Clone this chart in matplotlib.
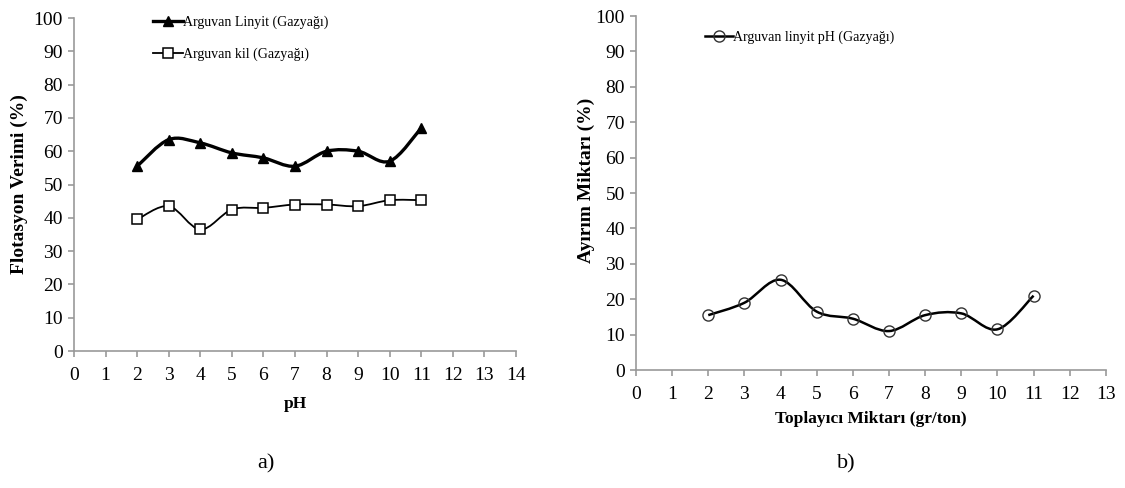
import matplotlib
matplotlib.use("Agg")
import matplotlib.pyplot as plt
import numpy as np
from matplotlib.path import Path
from matplotlib.patches import PathPatch
from matplotlib.lines import Line2D

plt.rcParams['font.family'] = ['Liberation Serif', 'DejaVu Serif']

# panel a
ph = [2, 3, 4, 5, 6, 7, 8, 9, 10, 11]
linyit = [55.5, 63.5, 62.5, 59.5, 58, 55.5, 60, 60, 57, 67]
kil = [39.5, 43.5, 36.5, 42.5, 43, 44, 44, 43.5, 45.3, 45.3]

# panel b
toplayici = [2, 3, 4, 5, 6, 7, 8, 9, 10, 11]
ayirim = [15.5, 19, 25.5, 16.5, 14.5, 11, 15.5, 16, 11.5, 21]


def smooth_path(x, y):
    # Excel-like smoothed line: Catmull-Rom segments drawn as cubic Beziers
    p = np.column_stack([x, y]).astype(float)
    ext = np.vstack([p[0], p, p[-1]])
    verts = [p[0]]
    codes = [Path.MOVETO]
    for i in range(len(p) - 1):
        p0, p1, p2, p3 = ext[i], ext[i + 1], ext[i + 2], ext[i + 3]
        c1 = p1 + (p2 - p0) / 6
        c2 = p2 - (p3 - p1) / 6
        verts += [c1, c2, p2]
        codes += [Path.CURVE4] * 3
    return Path(verts, codes)


def style_axes(ax, xmax, ylabel, xlabel, ysize, xpad):
    for s in ['top', 'right']:
        ax.spines[s].set_visible(False)
    for s in ['left', 'bottom']:
        ax.spines[s].set_color('#999999')
        ax.spines[s].set_linewidth(1.2)
    ax.set_xlim(0, xmax)
    ax.set_ylim(0, 100)
    ax.set_xticks(range(0, xmax + 1))
    ax.set_yticks(range(0, 101, 10))
    ax.tick_params(direction='out', length=4, color='#999999', width=1.2,
                   labelsize=14, pad=4)
    ax.tick_params(axis='x', pad=7.5)
    ax.set_ylabel(ylabel, fontsize=ysize, fontweight='bold', labelpad=4)
    ax.set_xlabel(xlabel, fontsize=12.5, fontweight='bold', labelpad=xpad)


fig = plt.figure(figsize=(11.25, 4.88), dpi=100)
ax1 = fig.add_axes([0.0658, 0.2807, 0.3929, 0.6823])
ax2 = fig.add_axes([0.5653, 0.2418, 0.4177, 0.7252])

style_axes(ax1, 14, 'Flotasyon Verimi (%)', 'pH', 14, 9)
style_axes(ax2, 13, 'Ayırım Miktarı (%)', 'Toplayıcı Miktarı (gr/ton)', 14, 5.5)
ax2.yaxis.set_label_coords(-0.088, 0.537)

ax1.add_patch(PathPatch(smooth_path(ph, linyit), fill=False, lw=2.4, ec='black'))
ax1.plot(ph, linyit, ls='none', marker='^', ms=7.5, mfc='black', mec='black')
ax1.add_patch(PathPatch(smooth_path(ph, kil), fill=False, lw=1.3, ec='black'))
ax1.plot(ph, kil, ls='none', marker='s', ms=7, mfc='white', mec='black', mew=1.1)

ax2.add_patch(PathPatch(smooth_path(toplayici, ayirim), fill=False, lw=1.8, ec='black'))
ax2.plot(toplayici, ayirim, ls='none', marker='o', ms=8, mfc='none', mec='#333333', mew=1.0)

h1 = [Line2D([], [], color='black', lw=2.4, marker='^', ms=7.5, mfc='black'),
      Line2D([], [], color='black', lw=1.3, marker='s', ms=7, mfc='white', mew=1.1)]
ax1.legend(h1, ['Arguvan Linyit (Gazyağı)', 'Arguvan kil (Gazyağı)'],
           loc='upper left', bbox_to_anchor=(0.15, 1.045), frameon=False,
           fontsize=10, handlelength=2.2, handletextpad=0.0, labelspacing=1.3)

h2 = [Line2D([], [], color='black', lw=1.8, marker='o', ms=8, mfc='none', mec='#333333')]
ax2.legend(h2, ['Arguvan linyit pH (Gazyağı)'],
           loc='upper left', bbox_to_anchor=(0.12, 0.995), frameon=False,
           fontsize=10, handlelength=2.0, handletextpad=0.0)

fig.text(0.236, 0.04, 'a)', fontsize=16, ha='center')
fig.text(0.752, 0.04, 'b)', fontsize=16, ha='center')

fig.savefig('out.png', dpi=100)
